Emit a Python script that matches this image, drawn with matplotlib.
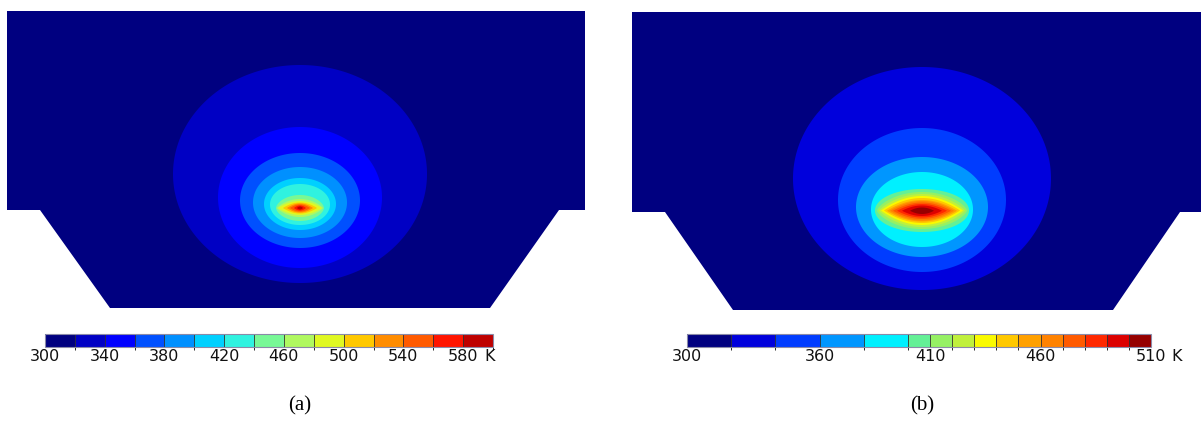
import numpy as np
import matplotlib
matplotlib.use("Agg")
import matplotlib.pyplot as plt
from matplotlib.colors import ListedColormap, BoundaryNorm
from matplotlib.cm import ScalarMappable
from matplotlib.patches import Polygon

# ---------------------------------------------------------------------------
# Cross-section outlines (x, y in px-units, y measured upward from the base)
# ---------------------------------------------------------------------------
outline_a_x = [0, 578, 578, 552, 483, 103, 33, 0]
outline_a_y = [297, 297, 98, 98, 0, 0, 98, 98]
hot_a = (293, 100)

outline_b_x = [0, 569, 569, 548, 481, 101, 33, 0]
outline_b_y = [298, 298, 98, 98, 0, 0, 98, 98]
hot_b = (290, 99)

# ---------------------------------------------------------------------------
# Temperature field (a): colour-band limits and the isotherm shapes
# (half width, reach above / below the source, tip sharpness)
# ---------------------------------------------------------------------------
bounds_a = [300, 320, 340, 360, 380, 400, 420, 440, 460, 480, 500,
            520, 540, 560, 580, 600]
ticks_a = [300, 340, 380, 420, 460, 500, 540, 580]
iso_levels_a = [320, 340, 360, 380, 400, 420, 440, 460, 480, 500,
                520, 540, 560, 580]
half_width_a = [127, 82, 60, 47, 36, 30, 24, 23, 22, 17, 13, 10, 6, 3]
reach_up_a = [143, 81, 55, 41, 30, 24, 13, 9, 7, 5.5, 4.5, 3.5, 2.5, 1.5]
reach_down_a = [75, 60, 40, 30, 22, 17, 13, 9, 7, 5.5, 4.5, 3.5, 2.5, 1.5]
tip_a = [0.5, 0.5, 0.5, 0.5, 0.5, 0.5, 0.6, 0.85, 1, 1, 1, 1, 1, 1]

# ---------------------------------------------------------------------------
# Temperature field (b)
# ---------------------------------------------------------------------------
bounds_b = [300, 320, 340, 360, 380, 400, 410, 420, 430, 440, 450,
            460, 470, 480, 490, 500, 510]
ticks_b = [300, 360, 410, 460, 510]
iso_levels_b = [320, 340, 360, 380, 400, 410, 420, 430, 440, 450,
                460, 470, 480, 490, 500]
half_width_b = [129, 84, 66, 51, 47, 45, 43, 41, 38, 35, 32, 29, 25, 20, 12]
reach_up_b = [144, 83, 54, 39, 22, 19, 17, 15, 13, 11, 10, 8.5, 7, 5.5, 3.5]
reach_down_b = [79, 61, 46, 36, 21, 18, 16, 14, 12, 10.5, 9.5, 8, 6.5, 5, 3]
tip_b = [0.5, 0.5, 0.5, 0.5, 0.5, 0.7, 0.85, 1, 1, 1, 1, 1, 1, 1, 1]

unit_label = "K"
panel_labels = ["(a)", "(b)"]

# Rainbow palettes of the two legends (one colour per band)
palette_a = ["#000080", "#0000c4", "#0000ff", "#0050ff", "#0090ff",
             "#00d0ff", "#30f2e0", "#78f896", "#b0f860", "#e0f822",
             "#ffc800", "#ff8c00", "#ff5a00", "#ff1400", "#be0000"]
palette_b = ["#000080", "#0000dc", "#003cff", "#0096ff", "#00f0ff",
             "#64f096", "#96f064", "#c0f03c", "#fafa00", "#ffc800",
             "#ffa000", "#ff8200", "#ff5a00", "#ff2800", "#dc0000",
             "#960000"]

# ---------------------------------------------------------------------------
W, H = 1203, 448
fig = plt.figure(figsize=(W / 100, H / 100), dpi=100)
fig.patch.set_facecolor("white")


def px_axes(x0, y0, x1, y1):
    """Axes occupying a pixel box given from the top-left corner."""
    return fig.add_axes([x0 / W, 1 - y1 / H, (x1 - x0) / W, (y1 - y0) / H])


def isotherm(center, w, up, down, tip, n=400):
    t = np.linspace(np.pi, 0, n)
    u = np.cos(t)
    env = np.clip(1 - u ** 2, 0, None) ** tip
    cy = center[1] + (up - down) / 2
    ry = (up + down) / 2
    x = center[0] + w * u
    top = cy + ry * env
    bot = cy - ry * env
    return np.column_stack([np.concatenate([x, x[::-1]]),
                            np.concatenate([top, bot[::-1]])])


def draw_field(box, ox, oy, hot, bounds, levels, widths, ups, downs, tips,
               colors):
    x0, y0, x1, y1 = box
    ax = px_axes(x0, y0, x1, y1)
    ax.set_xlim(0, x1 - x0)
    ax.set_ylim(0, y1 - y0)
    ax.axis("off")
    dom = Polygon(np.column_stack([ox, oy]), closed=True,
                  facecolor=colors[0], edgecolor="none", antialiased=True)
    ax.add_patch(dom)
    for lev, w, up, dn, tp in zip(levels, widths, ups, downs, tips):
        k = bounds.index(lev)
        p = Polygon(isotherm(hot, w, up, dn, tp), closed=True,
                    facecolor=colors[k], edgecolor="none", antialiased=True)
        p.set_clip_path(dom)
        ax.add_patch(p)


def draw_bar(box, bounds, ticks, colors):
    x0, y0, x1, y1 = box
    cax = px_axes(x0, y0, x1, y1)
    cmap = ListedColormap(colors)
    norm = BoundaryNorm(bounds, cmap.N)
    cb = fig.colorbar(ScalarMappable(norm=norm, cmap=cmap), cax=cax,
                      orientation="horizontal", spacing="proportional",
                      drawedges=True, ticks=ticks)
    cb.outline.set_edgecolor("#8a8aa8")
    cb.outline.set_linewidth(0.8)
    cb.dividers.set_color("#303030")
    cb.dividers.set_linewidth(0.6)
    cax.tick_params(length=0, pad=1.5, labelsize=11.5, colors="#111111")
    cax.annotate(unit_label, xy=(ticks[-1], 0),
                 xycoords=("data", "axes fraction"),
                 xytext=(15, -1.5), textcoords="offset points",
                 ha="left", va="top", fontsize=11.5, color="#111111")


draw_field((7, 11, 585, 308), outline_a_x, outline_a_y, hot_a,
           bounds_a, iso_levels_a, half_width_a, reach_up_a,
           reach_down_a, tip_a, palette_a)
draw_field((632, 12, 1201, 310), outline_b_x, outline_b_y, hot_b,
           bounds_b, iso_levels_b, half_width_b, reach_up_b,
           reach_down_b, tip_b, palette_b)

draw_bar((45, 334, 493, 347), bounds_a, ticks_a, palette_a)
draw_bar((687, 334, 1151, 347), bounds_b, ticks_b, palette_b)

for lbl, xc in zip(panel_labels, [300, 922]):
    fig.text(xc / W, 1 - 406 / H, lbl, ha="center", va="center",
             fontsize=15, family="Liberation Serif")

fig.savefig("out.png", dpi=100, facecolor="white")
